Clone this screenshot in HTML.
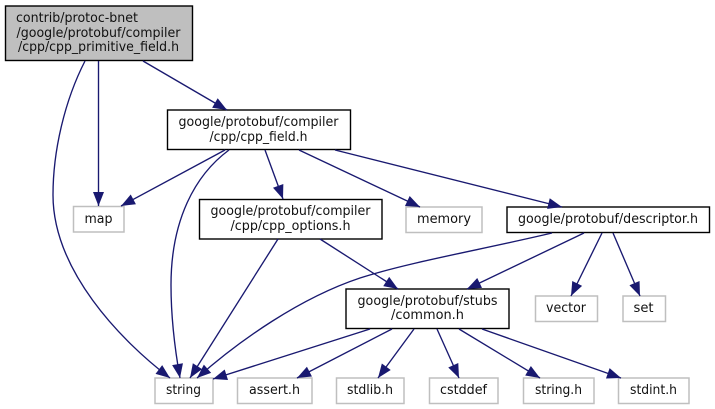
<!DOCTYPE html>
<html>
<head>
<meta charset="utf-8">
<style>
html,body{margin:0;padding:0;background:#fff;width:715px;height:409px;overflow:hidden}
svg{display:block}
text{font-family:"DejaVu Sans",sans-serif;font-size:13.3px;fill:#111;text-anchor:middle}
.e{fill:none;stroke:#191970;stroke-width:1.35;marker-end:url(#a)}
.n{fill:#fff;stroke:#000;stroke-width:1.4}
.g{fill:#fff;stroke:#bfbfbf;stroke-width:1.5}
</style>
</head>
<body>
<svg width="715" height="409" viewBox="0 0 715 409" xmlns="http://www.w3.org/2000/svg">
<defs>
<marker id="a" markerUnits="userSpaceOnUse" markerWidth="18" markerHeight="16" refX="15" refY="7" orient="auto">
<path d="M1,1.5 L15,7 L1,12.5 Z" fill="#191970"/>
</marker>
</defs>
<rect x="5.5" y="6" width="187" height="54.5" fill="#bfbfbf" stroke="#000" stroke-width="1.4"/>
<rect class="n" x="167.5" y="110" width="183" height="39.5"/>
<rect class="g" x="73.5" y="206.5" width="50.5" height="25.5"/>
<rect class="n" x="199.5" y="199.5" width="182.5" height="39.5"/>
<rect class="g" x="406" y="207" width="76" height="25.5"/>
<rect class="n" x="507" y="207" width="202.5" height="25.5"/>
<rect class="n" x="346" y="289" width="163" height="39.5"/>
<rect class="g" x="535.5" y="296" width="62" height="25.5"/>
<rect class="g" x="623" y="296" width="42.5" height="25.5"/>
<rect class="g" x="155" y="378" width="58" height="25.5"/>
<rect class="g" x="237.5" y="378" width="74.5" height="25.5"/>
<rect class="g" x="336.5" y="378" width="67.5" height="25.5"/>
<rect class="g" x="429.5" y="378" width="68.5" height="25.5"/>
<rect class="g" x="523.5" y="378" width="70.5" height="25.5"/>
<rect class="g" x="618.5" y="378" width="70.5" height="25.5"/>

<path class="e" d="M85,61 C65,100 53,150 53,195 C53,270 120,340 170,378"/>
<path class="e" d="M98.5,61 V206"/>
<path class="e" d="M143,61 L227,110"/>
<path class="e" d="M225,150 L121,206"/>
<path class="e" d="M229,150 C195,175 171,220 171,285 C171,320 175,350 180,378"/>
<path class="e" d="M265,150 L283,199"/>
<path class="e" d="M299,150 L420,207"/>
<path class="e" d="M335,150 L562,207"/>
<path class="e" d="M278,239 L190,378"/>
<path class="e" d="M320,239 L398,289"/>
<path class="e" d="M552,233 C480,250 410,262 360,278 C300,298 240,340 197,378"/>
<path class="e" d="M584,233 L467,289"/>
<path class="e" d="M602,233 L571,296"/>
<path class="e" d="M613,233 L640,296"/>
<path class="e" d="M370,329 L213,379"/>
<path class="e" d="M392,329 L297,378"/>
<path class="e" d="M414,329 L378,378"/>
<path class="e" d="M437,329 L459,378"/>
<path class="e" d="M459,329 L540,378"/>
<path class="e" d="M482,329 L621,378"/>

<text x="77" y="22" textLength="122" lengthAdjust="spacingAndGlyphs">contrib/protoc-bnet</text>
<text x="98.5" y="37" textLength="164" lengthAdjust="spacingAndGlyphs">/google/protobuf/compiler</text>
<text x="98.5" y="51" textLength="161" lengthAdjust="spacingAndGlyphs">/cpp/cpp_primitive_field.h</text>
<text x="258.5" y="126" textLength="160" lengthAdjust="spacingAndGlyphs">google/protobuf/compiler</text>
<text x="258.5" y="141" textLength="98" lengthAdjust="spacingAndGlyphs">/cpp/cpp_field.h</text>
<text x="98.5" y="223" textLength="28" lengthAdjust="spacingAndGlyphs">map</text>
<text x="290.5" y="215" textLength="160" lengthAdjust="spacingAndGlyphs">google/protobuf/compiler</text>
<text x="290.5" y="230" textLength="120" lengthAdjust="spacingAndGlyphs">/cpp/cpp_options.h</text>
<text x="444" y="223" textLength="54" lengthAdjust="spacingAndGlyphs">memory</text>
<text x="608" y="223" textLength="180" lengthAdjust="spacingAndGlyphs">google/protobuf/descriptor.h</text>
<text x="427.5" y="305" textLength="140" lengthAdjust="spacingAndGlyphs">google/protobuf/stubs</text>
<text x="427.5" y="319" textLength="73" lengthAdjust="spacingAndGlyphs">/common.h</text>
<text x="566" y="312" textLength="40" lengthAdjust="spacingAndGlyphs">vector</text>
<text x="643.5" y="312" textLength="20" lengthAdjust="spacingAndGlyphs">set</text>
<text x="183.5" y="394" textLength="35" lengthAdjust="spacingAndGlyphs">string</text>
<text x="274.5" y="394" textLength="51" lengthAdjust="spacingAndGlyphs">assert.h</text>
<text x="370" y="394" textLength="46" lengthAdjust="spacingAndGlyphs">stdlib.h</text>
<text x="463.5" y="394" textLength="47" lengthAdjust="spacingAndGlyphs">cstddef</text>
<text x="558.5" y="394" textLength="47" lengthAdjust="spacingAndGlyphs">string.h</text>
<text x="653.5" y="394" textLength="47" lengthAdjust="spacingAndGlyphs">stdint.h</text>
</svg>
</body>
</html>
